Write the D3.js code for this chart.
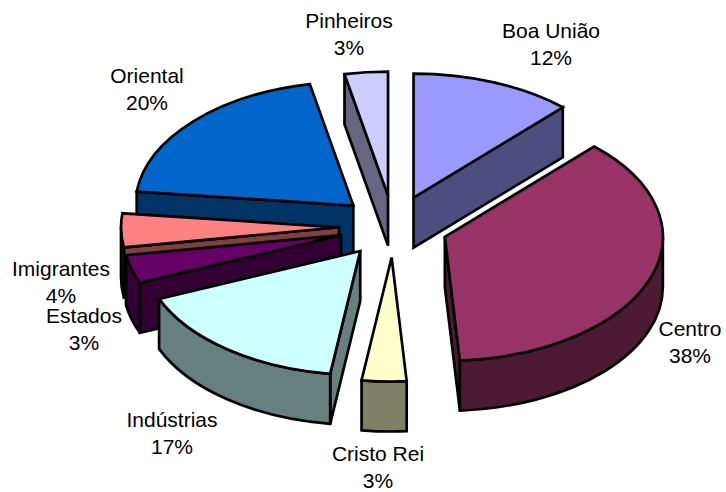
<!DOCTYPE html>
<html>
<head>
<meta charset="utf-8">
<script src="https://cdn.jsdelivr.net/npm/d3@7/dist/d3.min.js"></script>
<style>html,body{margin:0;padding:0;background:#fff}svg{display:block}</style>
</head>
<body>
<script>
// data
const categories = ["Boa União","Centro","Cristo Rei","Indústrias","Estados","Imigrantes","Oriental","Pinheiros"];
const values = [12.0,36.9,3.3,16.5,3.7,4.4,20.0,3.2];
const percentLabels = ["12%","38%","3%","17%","3%","4%","20%","3%"];
const topColors = ["#9999FF","#993366","#FFFFCC","#CCFFFF","#660066","#FF8080","#0066CC","#CCCCFF"];
const sideColors = ["#4D4D80","#4D1A33","#808066","#668080","#330033","#804040","#003366","#666680"];

// layout
const W = 726, H = 492;
const center = {x:393.5, y:226.5}, rx = 218, ry = 124, depth = 50, explode = 0.25;
const labelPos = [[551,38],[690,336],[378,461],[172,427],[84,323],[61,276],[147,83],[349,28]];
const lineGap = 27;

const svg = d3.select("body").append("svg").attr("width",W).attr("height",H).attr("viewBox",`0 0 ${W} ${H}`);

const arcs = d3.pie().sort(null).value(d=>d)(values);

const slices = arcs.map((a,i)=>{
  const mid=(a.startAngle+a.endAngle)/2;
  return {i,a0:a.startAngle,a1:a.endAngle,
    cx:center.x+explode*rx*Math.sin(mid),
    cy:center.y-explode*ry*Math.cos(mid)};
}).sort((p,q)=>p.cy-q.cy);

const pt=(s,t,dz=0)=>[s.cx+rx*Math.sin(t), s.cy-ry*Math.cos(t)+dz];
const f=p=>p[0].toFixed(2)+" "+p[1].toFixed(2);
const arcTo=(p,large,sweep)=>`A${rx} ${ry} 0 ${large} ${sweep} ${f(p)}`;
const stroke={stroke:"#000","stroke-width":2.7,"stroke-linejoin":"miter","stroke-miterlimit":3};

function poly(g,d,fill){
  const e=g.append("path").attr("d",d).attr("fill",fill);
  Object.entries(stroke).forEach(([k,v])=>e.attr(k,v));
}

slices.forEach(s=>{
  const g=svg.append("g").attr("class","slice").attr("data-name",categories[s.i]);
  const side=sideColors[s.i];
  const apex=[s.cx,s.cy], apexD=[s.cx,s.cy+depth];
  if(Math.sin(s.a0)<0){
    const p=pt(s,s.a0),q=pt(s,s.a0,depth);
    poly(g,`M${f(apex)}L${f(p)}L${f(q)}L${f(apexD)}Z`,side);
  }
  if(Math.sin(s.a1)>0){
    const p=pt(s,s.a1),q=pt(s,s.a1,depth);
    poly(g,`M${f(apex)}L${f(p)}L${f(q)}L${f(apexD)}Z`,side);
  }
  const w0=Math.max(s.a0,Math.PI/2), w1=Math.min(s.a1,3*Math.PI/2);
  if(w1>w0){
    poly(g,`M${f(pt(s,w0))}${arcTo(pt(s,w1),0,1)}L${f(pt(s,w1,depth))}${arcTo(pt(s,w0,depth),0,0)}Z`,side);
  }
  const large=(s.a1-s.a0)>Math.PI?1:0;
  poly(g,`M${f(apex)}L${f(pt(s,s.a0))}${arcTo(pt(s,s.a1),large,1)}Z`,topColors[s.i]);
});

const labels=svg.append("g").attr("font-family","'Liberation Sans',Arial,sans-serif").attr("font-size",21).attr("fill","#000").attr("text-anchor","middle");
categories.forEach((c,i)=>{
  labels.append("text").attr("x",labelPos[i][0]).attr("y",labelPos[i][1]).text(c);
  labels.append("text").attr("x",labelPos[i][0]).attr("y",labelPos[i][1]+lineGap).text(percentLabels[i]);
});
</script>
</body>
</html>
